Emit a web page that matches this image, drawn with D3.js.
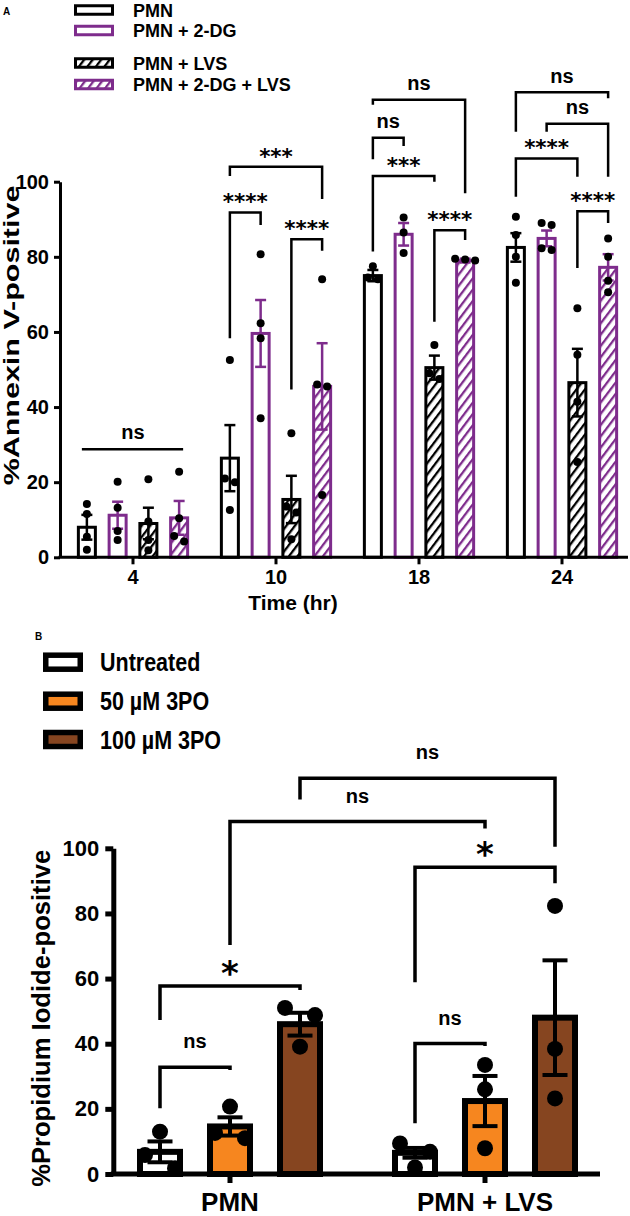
<!DOCTYPE html>
<html><head><meta charset="utf-8">
<script src="https://cdn.jsdelivr.net/npm/d3@7"></script>
<style>
body{margin:0;background:#fff;}
text{font-family:"Liberation Sans",Arial,sans-serif;font-weight:bold;}
</style>
</head><body>
<script>
// ---------------- Panel A data ----------------
const timesA = ["4", "10", "18", "24"];
const seriesA = ["PMN", "PMN + 2-DG", "PMN + LVS", "PMN + 2-DG + LVS"];
const meanPMN      = [8.0, 26.4, 75.0, 82.5];
const mean2DG      = [11.2, 59.6, 86.0, 84.9];
const meanLVS      = [9.0, 15.4, 50.5, 46.5];
const mean2DGLVS   = [10.5, 45.5, 79.0, 77.2];
const semPMN       = [3.3, 8.8, 1.5, 3.8];
const sem2DG       = [3.6, 8.9, 3.0, 2.1];
const semLVS       = [4.2, 6.3, 3.2, 9.0];
const sem2DGLVS    = [4.5, 11.5, 0.5, 3.5];
const ptsPMN    = [[14.2, 11.5, 5.5, 2.0], [52.5, 21.0, 20.0, 12.6], [77.5, 74.5, 74.0], [90.7, 85.8, 80.0, 73.1]];
const pts2DG    = [[20.1, 13.2, 7.0, 4.6], [80.7, 62.3, 58.3, 37.0], [90.5, 86.5, 81.0], [89.0, 88.5, 82.3, 81.8]];
const ptsLVS    = [[20.8, 9.5, 4.6, 1.9], [33.0, 13.5, 11.9, 4.8], [56.5, 49.0, 47.5], [66.3, 53.9, 41.4, 25.4]];
const pts2DGLVS = [[22.8, 10.4, 5.7, 4.2], [74.0, 46.0, 45.5, 16.6], [79.5, 79.3, 79.0], [84.9, 80.0, 73.6, 70.6]];
const yTicksA = [0, 20, 40, 60, 80, 100];
// brackets: time, bar a, bar b, label, line level, left-leg end, right-leg end (data units)
const bracketsA = [
  ["4", 0, 3, "ns", 28.8, null, null],
  ["10", 0, 1, "****", 91.8, 58.3, 88.5],
  ["10", 2, 3, "****", 84.7, 44.7, 81.6],
  ["10", 0, 3, "***", 104.0, 101.5, 95.4],
  ["18", 0, 3, "ns", 121.8, 120.5, 96.9],
  ["18", 0, 1, "ns", 111.7, 106.0, 109.5],
  ["18", 0, 2, "***", 101.5, 81.4, 100.0],
  ["18", 2, 3, "****", 87.1, 62.7, 84.5],
  ["24", 0, 3, "ns", 123.8, 113.3, 122.2],
  ["24", 1, 3, "ns", 115.4, 113.3, 101.3],
  ["24", 0, 2, "****", 106.2, 96.0, 101.3],
  ["24", 2, 3, "****", 92.1, 77.0, 89.0]
];

// ---------------- Panel B data ----------------
const groupsB = ["PMN", "PMN + LVS"];
const treatB = ["Untreated", "50 µM 3PO", "100 µM 3PO"];
const meanUntr = [6.8, 6.5];
const mean50   = [14.6, 22.4];
const mean100  = [46.0, 48.0];
const semUntr  = [3.2, 1.5];
const sem50    = [2.8, 7.7];
const sem100   = [3.5, 17.6];
const ptsUntr  = [[13.0, 5.8, 1.8], [9.4, 6.8, 2.0]];
const pts50    = [[20.7, 12.6, 11.0], [33.5, 26.0, 7.9]];
const pts100   = [[51.0, 48.8, 39.1], [82.3, 38.4, 23.2]];
const yTicksB = [0, 20, 40, 60, 80, 100];
// brackets: [group,bar] a, [group,bar] b, label, line level, left end, right end
const bracketsB = [
  [[0, 0], [0, 1], "ns", 32.8, 20.2, 31.9],
  [[0, 0], [0, 2], "*", 57.7, 47.3, 56.5],
  [[0, 2], [1, 2], "ns", 121.5, 115.0, 100.5],
  [[0, 1], [1, 1], "ns", 108.2, 70.3, 106.1],
  [[1, 0], [1, 2], "*", 94.2, 58.9, 89.3],
  [[1, 0], [1, 1], "ns", 40.1, 15.6, 39.3]
];

const meansA = [meanPMN, mean2DG, meanLVS, mean2DGLVS];
const semsA = [semPMN, sem2DG, semLVS, sem2DGLVS];
const ptsA = [ptsPMN, pts2DG, ptsLVS, pts2DGLVS];
const meansB = [meanUntr, mean50, mean100];
const semsB = [semUntr, sem50, sem100];
const ptsB = [ptsUntr, pts50, pts100];

// ---------------- styles ----------------
const purple = "#7E2C8C";
const orange = "#F6861F";
const brown = "#864520";
const colA = ["#000", purple, "#000", purple];
const fillA = ["#fff", "#fff", "url(#hatchK)", "url(#hatchP)"];
const fillB = ["#fff", orange, brown];
const starFont = '"DejaVu Sans", sans-serif';

const svg = d3.select("body").append("svg").attr("width", 630).attr("height", 1216);
const defs = svg.append("defs");
[["hatchK", "#000"], ["hatchP", purple]].forEach(([id, c]) => {
  const p = defs.append("pattern").attr("id", id).attr("patternUnits", "userSpaceOnUse")
    .attr("width", 10).attr("height", 6.8).attr("patternTransform", "rotate(-53)");
  p.append("rect").attr("width", 10).attr("height", 6.8).attr("fill", "#fff");
  p.append("rect").attr("width", 10).attr("height", 2.3).attr("fill", c);
});

function swarm(vals, scale, thresh, spacing) {
  const pts = vals.map(v => ({ v, py: scale(v) })).sort((a, b) => a.py - b.py);
  const clusters = []; let cur = [pts[0]];
  for (let k = 1; k < pts.length; k++) {
    if (pts[k].py - cur[cur.length - 1].py < thresh) cur.push(pts[k]);
    else { clusters.push(cur); cur = [pts[k]]; }
  }
  clusters.push(cur);
  clusters.forEach(c => c.forEach((p, i) => p.dx = (i - (c.length - 1) / 2) * spacing));
  return pts;
}

// ================= PANEL A =================
const yA = d3.scaleLinear().domain([0, 100]).range([557.3, 181.7]);
const xA = d3.scaleBand().domain(timesA).range([61.5, 633.5]);
const xiA = d3.scaleBand().domain(d3.range(seriesA.length)).range([-61.5, 61.5]);
const cxA = (t, i) => xA(t) + xA.bandwidth() / 2 + xiA(i) + xiA.bandwidth() / 2;

const gA = svg.append("g");
seriesA.forEach((s, i) => {
  timesA.forEach((t, j) => {
    const cx = cxA(t, i), m = meansA[i][j];
    gA.append("rect").attr("x", cx - 8.5).attr("y", yA(m)).attr("width", 17)
      .attr("height", yA(0) - yA(m)).attr("fill", fillA[i]).attr("stroke", colA[i]).attr("stroke-width", 3);
  });
});
seriesA.forEach((s, i) => {
  timesA.forEach((t, j) => {
    const cx = cxA(t, i), m = meansA[i][j], e = semsA[i][j];
    const eg = gA.append("g").attr("stroke", colA[i]).attr("stroke-width", 2.5);
    eg.append("line").attr("x1", cx).attr("x2", cx).attr("y1", yA(m - e)).attr("y2", yA(m + e));
    [m - e, m + e].forEach(v => eg.append("line").attr("x1", cx - 5.5).attr("x2", cx + 5.5).attr("y1", yA(v)).attr("y2", yA(v)));
  });
});
seriesA.forEach((s, i) => {
  timesA.forEach((t, j) => {
    const cx = cxA(t, i);
    swarm(ptsA[i][j], yA, 8, 10).forEach(p => {
      gA.append("circle").attr("cx", cx + p.dx).attr("cy", p.py).attr("r", 4).attr("fill", "#000");
    });
  });
});

// axes A
const axYA = svg.append("g").attr("transform", "translate(60,0)")
  .call(d3.axisLeft(yA).tickValues(yTicksA).tickSize(6).tickSizeOuter(0).tickPadding(5));
axYA.selectAll("path,line").attr("stroke", "#000").attr("stroke-width", 3);
axYA.selectAll("text").attr("font-size", 20).attr("font-family", null).attr("fill", "#000");
const axXA = svg.append("g").attr("transform", `translate(0,${yA(0)})`)
  .call(d3.axisBottom(xA).tickSize(7).tickSizeOuter(0).tickPadding(6));
axXA.select(".domain").remove();
axXA.selectAll("line").attr("stroke", "#000").attr("stroke-width", 3);
axXA.selectAll("text").attr("font-size", 20).attr("font-family", null).attr("fill", "#000");
svg.append("line").attr("x1", 58.5).attr("x2", 628).attr("y1", yA(0)).attr("y2", yA(0))
  .attr("stroke", "#000").attr("stroke-width", 3);

// brackets A
bracketsA.forEach(([t, a, b, lab, yl, ya, yb]) => {
  const xa = cxA(t, a), xb = cxA(t, b);
  let d;
  if (ya === null) d = `M${xa - 5},${yA(yl)}H${xb + 4}`;
  else d = `M${xa},${yA(ya)}V${yA(yl)}H${xb}V${yA(yb)}`;
  svg.append("path").attr("d", d).attr("fill", "none").attr("stroke", "#000").attr("stroke-width", 2.5);
  const star = lab.includes("*");
  svg.append("text").attr("x", (xa + xb) / 2).attr("y", yA(yl) - (star ? 3 : 9.8))
    .attr("text-anchor", "middle").attr("font-size", star ? 21.5 : 20)
    .style("font-family", star ? starFont : null).text(lab);
});

svg.append("text").attr("text-anchor", "middle").attr("font-size", 30.5)
  .attr("transform", "translate(19,335.5) scale(0.75,1) rotate(-90)").text("%Annexin V-positive");
svg.append("text").attr("x", 293).attr("y", 610).attr("text-anchor", "middle").attr("font-size", 21).text("Time (hr)");
svg.append("text").attr("x", 3).attr("y", 15).attr("font-size", 10).text("A");

// legend A
const legA = svg.append("g");
const legRowsA = [10, 30.5, 63, 84.5];
seriesA.forEach((s, i) => {
  const cy = legRowsA[i];
  legA.append("rect").attr("x", 75.5).attr("y", cy - 4.25).attr("width", 37).attr("height", 8.5)
    .attr("fill", fillA[i]).attr("stroke", colA[i]).attr("stroke-width", 3);
  legA.append("text").attr("x", 133).attr("y", cy + 6.5).attr("font-size", 18).text(s);
});

// ================= PANEL B =================
const yB = d3.scaleLinear().domain([0, 100]).range([1174, 848.3]);
const xB = d3.scaleBand().domain(groupsB).range([102.5, 612.5]);
const xiB = d3.scaleBand().domain(d3.range(treatB.length)).range([-105, 105]);
const cxB = (g, i) => xB(groupsB[g]) + xB.bandwidth() / 2 + xiB(i) + xiB.bandwidth() / 2;

const gB = svg.append("g");
treatB.forEach((tr, i) => {
  groupsB.forEach((g, j) => {
    const cx = cxB(j, i), m = meansB[i][j];
    gB.append("rect").attr("x", cx - 20).attr("y", yB(m)).attr("width", 40).attr("height", yB(0) - yB(m))
      .attr("fill", fillB[i]).attr("stroke", "#000").attr("stroke-width", 6);
  });
});
treatB.forEach((tr, i) => {
  groupsB.forEach((g, j) => {
    const cx = cxB(j, i), m = meansB[i][j], e = semsB[i][j];
    const eg = gB.append("g").attr("stroke", "#000").attr("stroke-width", 4);
    eg.append("line").attr("x1", cx).attr("x2", cx).attr("y1", yB(m - e)).attr("y2", yB(m + e));
    [m - e, m + e].forEach(v => eg.append("line").attr("x1", cx - 12.5).attr("x2", cx + 12.5).attr("y1", yB(v)).attr("y2", yB(v)));
    swarm(ptsB[i][j], yB, 14, 30).forEach(p => {
      gB.append("circle").attr("cx", cx + p.dx).attr("cy", p.py).attr("r", 8).attr("fill", "#000");
    });
  });
});

const axYB = svg.append("g").attr("transform", "translate(113.3,0)")
  .call(d3.axisLeft(yB).tickValues(yTicksB).tickSize(8).tickSizeOuter(0).tickPadding(6));
axYB.selectAll("path,line").attr("stroke", "#000").attr("stroke-width", 5);
axYB.selectAll("text").attr("font-size", 22).attr("font-family", null).attr("fill", "#000");
const axXB = svg.append("g").attr("transform", `translate(0,${yB(0)})`)
  .call(d3.axisBottom(xB).tickSize(9).tickSizeOuter(0).tickPadding(9.5));
axXB.select(".domain").remove();
axXB.selectAll("line").attr("stroke", "#000").attr("stroke-width", 5);
axXB.selectAll("text").attr("font-size", 26).attr("font-family", null).attr("fill", "#000");
svg.append("line").attr("x1", 110.8).attr("x2", 600).attr("y1", yB(0)).attr("y2", yB(0))
  .attr("stroke", "#000").attr("stroke-width", 5);

bracketsB.forEach(([a, b, lab, yl, ya, yb]) => {
  const xa = cxB(a[0], a[1]), xb = cxB(b[0], b[1]);
  svg.append("path").attr("d", `M${xa},${yB(ya)}V${yB(yl)}H${xb}V${yB(yb)}`)
    .attr("fill", "none").attr("stroke", "#000").attr("stroke-width", 3.5);
  const star = lab.includes("*");
  svg.append("text").attr("x", (xa + xb) / 2).attr("y", yB(yl) - (star ? 1 : 18.8))
    .attr("text-anchor", "middle").attr("font-size", star ? 34 : 20)
    .style("font-family", star ? starFont : null).text(lab);
});

svg.append("text").attr("text-anchor", "middle").attr("font-size", 25.6)
  .attr("transform", "translate(49.6,1018.3) rotate(-90)").text("%Propidium Iodide-positive");
svg.append("text").attr("x", 35).attr("y", 640).attr("font-size", 10).text("B");

const legRowsB = [662.2, 701.2, 739.5];
treatB.forEach((tr, i) => {
  const cy = legRowsB[i];
  svg.append("rect").attr("x", 45.75).attr("y", cy - 7).attr("width", 34.5).attr("height", 14)
    .attr("fill", fillB[i]).attr("stroke", "#000").attr("stroke-width", 5.5);
  svg.append("text").attr("font-size", 25.6)
    .attr("transform", `translate(100,${cy + 9.2}) scale(0.84,1)`).text(tr);
});
</script>
</body></html>
